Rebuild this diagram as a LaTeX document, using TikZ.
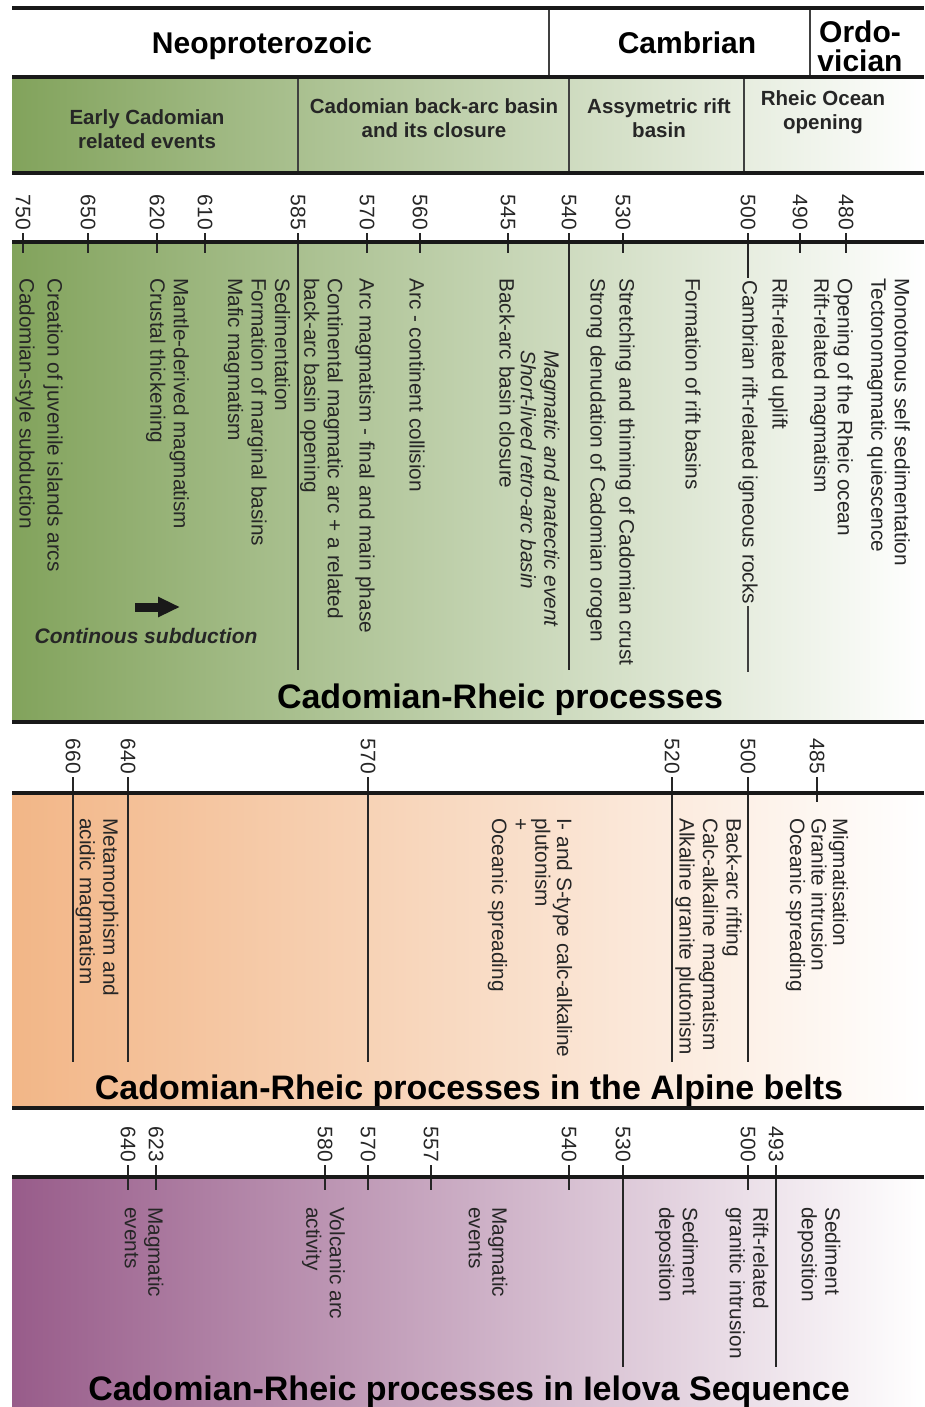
\documentclass[tikz,border=0pt]{standalone}
\usepackage{fontspec}
\setmainfont{Liberation Sans}
\usepackage{tikz}
\usetikzlibrary{arrows.meta,positioning}

\definecolor{grn}{RGB}{130,163,92}
\definecolor{org}{RGB}{242,182,135}
\definecolor{prp}{RGB}{152,92,138}
\definecolor{txt}{RGB}{38,38,38}

\newcommand{\evtfont}{\fontsize{20.8}{23.5}\selectfont}
\newcommand{\agefont}{\fontsize{21}{23}\selectfont}
\newcommand{\bandfont}{\fontsize{20.5}{23.5}\selectfont\bfseries}
\newcommand{\erafont}{\fontsize{30}{30}\selectfont\bfseries}
\newcommand{\titlefont}{\fontsize{34}{38}\selectfont\bfseries}

\begin{document}
\begin{tikzpicture}[x=1pt, y=-1pt,
  rule/.style={line width=3.5pt, draw=black!90},
  vline/.style={line width=1.1pt, draw=black!75},
  tick/.style={line width=1.4pt, draw=black!85},
  age/.style={rotate=-90, anchor=east, inner sep=0pt, font=\agefont, text=black!85},
  evt/.style={rotate=-90, anchor=west, align=left, inner sep=0pt, font=\evtfont, text=txt},
  band/.style={align=center, inner sep=0pt, font=\bandfont, text=txt},
  era/.style={anchor=base, inner sep=0pt, font=\erafont},
  ttl/.style={anchor=base, inner sep=0pt, font=\titlefont}]
  \useasboundingbox (0,0) rectangle (924,1407);

  % colour bands
  \shade[left color=grn, right color=white] (12,77) rectangle (924,173);
  \shade[left color=grn, right color=white] (12,242) rectangle (924,722);
  \shade[left color=org, right color=white] (12,793) rectangle (924,1108);
  \shade[left color=prp, right color=white] (12,1177) rectangle (924,1407);

  % periods
  \node[era] (neo) at (262,54) {Neoproterozoic};
  \node[era] (cam) at (687,54) {Cambrian};
  \node[era] (ord1) at (860,43) {Ordo-};
  \node[era] (ord2) at (860,72) {vician};
  \draw[vline] (549,8) -- (549,77);
  \draw[vline] (810,8) -- (810,77);

  % stages
  \node[band] (early) at (147,129) {Early Cadomian\\related events};
  \node[band] (backarc) at (434,118) {Cadomian back-arc basin\\and its closure};
  \node[band] (asym) at (659,118) {Assymetric rift\\basin};
  \node[band] (ocean) at (823,112) {Rheic Ocean\\opening};
  \foreach \x in {298,569,744}
    \draw[vline] (\x,77) -- (\x,173);

  % ages, first scale
  \foreach \x/\a/\e in {23/750/253, 88/650/253, 157/620/253, 205/610/253,
      298/585/670, 367/570/253, 420/560/253, 508/545/253, 569/540/670,
      623/530/253, 800/490/253, 846/480/253} {
    \node[age] (ta\a) at (\x,230) {\a};
    \draw[tick] ([yshift=-3pt]ta\a.east) -- (\x,\e);
  }
  \node[age] (ta500) at (748,230) {500};

  % Cadomian-Rheic processes
  \node[evt] (creat) at (53,278) {Creation of juvenile islands arcs};
  \node[evt] (cstyle) at (25,278) {Cadomian-style subduction};
  \node[evt] (mantle) at (167.5,278) {Mantle-derived magmatism\\Crustal thickening};
  \node[evt] (sedim) at (257,278) {Sedimentation\\Formation of marginal basins\\Mafic magmatism};
  \node[evt] (contarc) at (321.5,278) {Continental magmatic arc + a related\\back-arc basin opening};
  \node[evt] (arcmag) at (365,278) {Arc magmatism - final and main phase};
  \node[evt] (collis) at (417,278) {Arc - continent collision};
  \node[evt, font=\evtfont\itshape] (anatex) at (540,350) {Magmatic and anatectic event\\Short-lived retro-arc basin};
  \node[evt] (closure) at (507,278) {Back-arc basin closure};
  \node[evt] (stretch) at (625,278) {Stretching and thinning of Cadomian crust};
  \node[evt] (denud) at (596,278) {Strong denudation of Cadomian orogen};
  \node[evt] (riftbas) at (693,278) {Formation of rift basins};
  \node[evt] (igneous) at (748,280) {Cambrian rift-related igneous rocks};
  \node[evt] (uplift) at (778,278) {Rift-related uplift};
  \node[evt] (rheic) at (831.5,278) {Opening of the Rheic ocean\\Rift-related magmatism};
  \node[evt] (quiesc) at (888.5,278) {Monotonous self sedimentation\\Tectonomagmatic quiescence};
  \draw[tick] ([yshift=-3pt]ta500.east) -- ([yshift=2pt]igneous.west);
  \draw[vline] ([yshift=-2pt]igneous.east) -- (748,672);

  \coordinate (ar0) at (135,607);
  \coordinate (ar1) at (180,607);
  \draw[line width=9pt, black!90, -{Triangle[length=22pt, width=19pt]}] (ar0) -- (ar1);
  \node[anchor=base, inner sep=0pt, font=\fontsize{21}{23}\selectfont\bfseries\itshape, text=txt]
    (contsub) at (146,643) {Continous subduction};
  \node[ttl] (cr) at (500,708) {Cadomian-Rheic processes};

  % ages, Alpine belts
  \foreach \x/\a/\e in {73/660/1062, 128/640/1062, 368/570/1062,
      672/520/1062, 748/500/1062, 817/485/802} {
    \node[age] (ma\a) at (\x,774) {\a};
    \draw[tick] ([yshift=-3pt]ma\a.east) -- (\x,\e);
  }

  \node[evt] (metam) at (97,818) {Metamorphism and\\acidic magmatism};
  \node[evt, font=\fontsize{20.8}{21.7}\selectfont] (istype) at (530,818)
    {I- and S-type calc-alkaline\\plutonism\\+\\Oceanic spreading};
  \node[evt] (rifting) at (708.5,818) {Back-arc rifting\\Calc-alkaline magmatism\\Alkaline granite plutonism};
  \node[evt, font=\fontsize{20.8}{21.5}\selectfont] (migmat) at (817,818)
    {Migmatisation\\Granite intrusion\\Oceanic spreading};
  \node[ttl] (crap) at (469,1099) {Cadomian-Rheic processes in the Alpine belts};

  % ages, Ielova Sequence
  \foreach \x/\a/\e in {128/640/1190, 156/623/1190, 325/580/1190,
      368/570/1190, 431/557/1190, 569/540/1190, 623/530/1367,
      748/500/1190, 776/493/1367} {
    \node[age] (ba\a) at (\x,1162) {\a};
    \draw[tick] ([yshift=-3pt]ba\a.east) -- (\x,\e);
  }

  \node[evt] (magev1) at (144,1207) {Magmatic\\events};
  \node[evt] (volc) at (323.5,1207) {Volcanic arc\\activity};
  \node[evt] (magev2) at (488,1207) {Magmatic\\events};
  \node[evt] (sedep1) at (676.5,1207) {Sediment\\deposition};
  \node[evt] (riftgr) at (747,1207) {Rift-related\\granitic intrusion};
  \node[evt] (sedep2) at (819,1207) {Sediment\\deposition};
  \node[ttl] (crie) at (469,1400) {Cadomian-Rheic processes in Ielova Sequence};

  % rules
  \foreach \y in {8,77,173,242,722,793,1108,1177}
    \draw[rule] (12,\y) -- (924,\y);
\end{tikzpicture}
\end{document}
